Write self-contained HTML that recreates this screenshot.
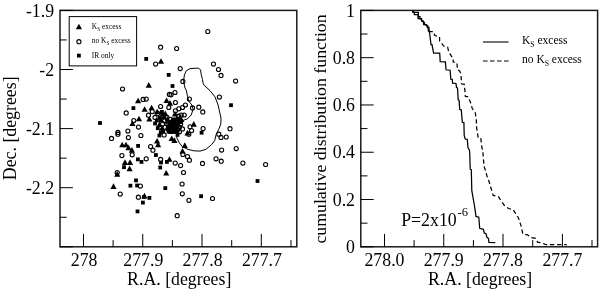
<!DOCTYPE html>
<html><head><meta charset="utf-8"><title>Figure</title>
<style>
html,body{margin:0;padding:0;background:#fff;}
body{width:600px;height:289px;overflow:hidden;}
svg{display:block;font-family:"Liberation Serif","Times New Roman",serif;fill:#000;}
.ax{fill:none;stroke:#1a1a1a;stroke-width:1.5;}
.tk{stroke:#000;stroke-width:1;fill:none;}
.lbl{font-size:17.8px;}
.c{fill:none;stroke:#000;stroke-width:1.1;}
.cn{fill:none;stroke:#000;stroke-width:1.1;}
</style></head><body>
<svg width="600" height="289" viewBox="0 0 600 289">
<rect x="0" y="0" width="600" height="289" fill="#fff"/>

<rect class="ax" x="60.0" y="10.4" width="236.8" height="236.4"/>
<rect class="ax" x="360.8" y="10.4" width="236.8" height="236.4"/>
<path class="tk" d="M60.0,10.40h12.9M60.0,39.95h6.7M60.0,69.50h12.9M60.0,99.05h6.7M60.0,128.60h12.9M60.0,158.15h6.7M60.0,187.70h12.9M60.0,217.25h6.7M60.0,246.80h12.9M83.5,246.8v-12.9M113.1,246.8v-6.7M142.75,246.8v-12.9M172.4,246.8v-6.7M202,246.8v-12.9M231.7,246.8v-6.7M261.3,246.8v-12.9M291,246.8v-6.7M360.8,246.80h12.9M360.8,223.16h6.7M360.8,199.52h12.9M360.8,175.88h6.7M360.8,152.24h12.9M360.8,128.60h6.7M360.8,104.96h12.9M360.8,81.32h6.7M360.8,57.68h12.9M360.8,34.04h6.7M360.8,10.40h12.9M384.5,246.8v-12.9M414.1,246.8v-6.7M443.75,246.8v-12.9M473.4,246.8v-6.7M503,246.8v-12.9M532.7,246.8v-6.7M562.4,246.8v-12.9M592,246.8v-6.7"/>
<text class="lbl" text-anchor="end" transform="translate(54.1,16.6) scale(1,1.1)">-1.9</text>
<text class="lbl" text-anchor="end" transform="translate(54.1,75.7) scale(1,1.1)">-2</text>
<text class="lbl" text-anchor="end" transform="translate(54.1,134.8) scale(1,1.1)">-2.1</text>
<text class="lbl" text-anchor="end" transform="translate(54.1,193.9) scale(1,1.1)">-2.2</text>
<text class="lbl" text-anchor="end" transform="translate(355,16.6) scale(1,1.1)">1</text>
<text class="lbl" text-anchor="end" transform="translate(355,63.9) scale(1,1.1)">0.8</text>
<text class="lbl" text-anchor="end" transform="translate(355,111.2) scale(1,1.1)">0.6</text>
<text class="lbl" text-anchor="end" transform="translate(355,158.4) scale(1,1.1)">0.4</text>
<text class="lbl" text-anchor="end" transform="translate(355,205.7) scale(1,1.1)">0.2</text>
<text class="lbl" text-anchor="end" transform="translate(355,253.0) scale(1,1.1)">0</text>
<text class="lbl" text-anchor="middle" transform="translate(84.1,266.3) scale(1,1.1)">278</text>
<text class="lbl" text-anchor="middle" transform="translate(143.35,266.3) scale(1,1.1)">277.9</text>
<text class="lbl" text-anchor="middle" transform="translate(202.6,266.3) scale(1,1.1)">277.8</text>
<text class="lbl" text-anchor="middle" transform="translate(261.90000000000003,266.3) scale(1,1.1)">277.7</text>
<text class="lbl" text-anchor="middle" transform="translate(384.5,266.3) scale(1,1.1)">278.0</text>
<text class="lbl" text-anchor="middle" transform="translate(443.75,266.3) scale(1,1.1)">277.9</text>
<text class="lbl" text-anchor="middle" transform="translate(503,266.3) scale(1,1.1)">277.8</text>
<text class="lbl" text-anchor="middle" transform="translate(562.4,266.3) scale(1,1.1)">277.7</text>
<text class="lbl" text-anchor="middle" transform="translate(179.2,285.3) scale(1,1.1)">R.A. [degrees]</text>
<text class="lbl" text-anchor="middle" transform="translate(480.1,285.3) scale(1,1.1)">R.A. [degrees]</text>
<text class="lbl" text-anchor="middle" transform="translate(16,128.3) rotate(-90) scale(1,1.1)">Dec. [degrees]</text>
<text class="lbl" text-anchor="middle" transform="translate(325.8,129) rotate(-90) scale(1,0.9)">cumulative distribution function</text>
<polyline class="cn" style="stroke-width:1" points="198.8,68.2 195.0,68.2 190.0,68.6 186.2,70.8 184.4,75.1 183.5,81.4 185.0,88.0 186.2,90.0 187.5,96.2 188.8,101.2 191.9,105.0 193.1,109.4 191.2,115.0 187.5,118.8 182.5,120.6 178.0,124.0 176.0,130.0 176.9,138.0 179.4,143.0 182.5,146.8 187.5,149.2 193.8,150.8 200.0,151.1 205.8,149.4 211.5,144.7 214.7,140.6 216.2,134.3 218.8,129.2 220.8,124.0 221.0,118.0 220.0,113.8 218.1,105.0 215.0,96.9 210.0,90.6 203.8,85.0 203.1,83.2 202.5,79.5 201.2,74.5 200.6,70.1 198.8,68.2"/>
<g class="c"><circle cx="207.8" cy="31.5" r="2.05"/><circle cx="160.6" cy="47.2" r="2.05"/><circle cx="176.6" cy="48.5" r="2.05"/><circle cx="155.6" cy="64.1" r="2.05"/><circle cx="122.5" cy="89.0" r="2.05"/><circle cx="180.2" cy="68.6" r="2.05"/><circle cx="213.5" cy="64.1" r="2.05"/><circle cx="218.5" cy="69.5" r="2.05"/><circle cx="221.0" cy="75.4" r="2.05"/><circle cx="235.6" cy="81.1" r="2.05"/><circle cx="182.9" cy="81.4" r="2.05"/><circle cx="143.1" cy="99.4" r="2.05"/><circle cx="146.2" cy="99.1" r="2.05"/><circle cx="169.4" cy="94.4" r="2.05"/><circle cx="160.6" cy="106.5" r="2.05"/><circle cx="126.2" cy="112.9" r="2.05"/><circle cx="168.8" cy="107.5" r="2.05"/><circle cx="152.2" cy="111.6" r="2.05"/><circle cx="148.5" cy="115.2" r="2.05"/><circle cx="133.8" cy="120.5" r="2.05"/><circle cx="175.4" cy="102.5" r="2.05"/><circle cx="185.4" cy="105.0" r="2.05"/><circle cx="182.5" cy="107.5" r="2.05"/><circle cx="178.8" cy="108.8" r="2.05"/><circle cx="175.4" cy="110.8" r="2.05"/><circle cx="192.5" cy="107.9" r="2.05"/><circle cx="181.2" cy="115.0" r="2.05"/><circle cx="184.2" cy="115.0" r="2.05"/><circle cx="175.0" cy="92.5" r="2.05"/><circle cx="171.0" cy="94.8" r="2.05"/><circle cx="189.4" cy="99.1" r="2.05"/><circle cx="198.8" cy="107.2" r="2.05"/><circle cx="202.8" cy="111.9" r="2.05"/><circle cx="219.4" cy="97.1" r="2.05"/><circle cx="230.0" cy="128.7" r="2.05"/><circle cx="226.2" cy="137.0" r="2.05"/><circle cx="138.5" cy="127.1" r="2.05"/><circle cx="127.9" cy="131.1" r="2.05"/><circle cx="117.9" cy="132.4" r="2.05"/><circle cx="117.9" cy="134.2" r="2.05"/><circle cx="111.5" cy="138.4" r="2.05"/><circle cx="128.4" cy="137.6" r="2.05"/><circle cx="140.9" cy="135.5" r="2.05"/><circle cx="150.6" cy="146.5" r="2.05"/><circle cx="152.9" cy="150.2" r="2.05"/><circle cx="164.1" cy="134.9" r="2.05"/><circle cx="182.5" cy="128.9" r="2.05"/><circle cx="180.6" cy="121.1" r="2.05"/><circle cx="190.0" cy="126.8" r="2.05"/><circle cx="191.6" cy="130.5" r="2.05"/><circle cx="188.8" cy="134.2" r="2.05"/><circle cx="203.1" cy="128.6" r="2.05"/><circle cx="218.8" cy="134.2" r="2.05"/><circle cx="221.0" cy="137.4" r="2.05"/><circle cx="221.6" cy="150.1" r="2.05"/><circle cx="236.2" cy="148.6" r="2.05"/><circle cx="121.9" cy="155.6" r="2.05"/><circle cx="132.2" cy="154.8" r="2.05"/><circle cx="146.2" cy="158.8" r="2.05"/><circle cx="160.6" cy="159.4" r="2.05"/><circle cx="117.2" cy="172.5" r="2.05"/><circle cx="182.9" cy="154.4" r="2.05"/><circle cx="187.5" cy="156.5" r="2.05"/><circle cx="189.4" cy="160.2" r="2.05"/><circle cx="175.2" cy="163.1" r="2.05"/><circle cx="180.6" cy="165.6" r="2.05"/><circle cx="183.5" cy="172.5" r="2.05"/><circle cx="182.1" cy="184.0" r="2.05"/><circle cx="202.5" cy="163.4" r="2.05"/><circle cx="216.0" cy="158.8" r="2.05"/><circle cx="221.2" cy="161.2" r="2.05"/><circle cx="242.9" cy="163.1" r="2.05"/><circle cx="265.6" cy="164.5" r="2.05"/><circle cx="140.4" cy="186.1" r="2.05"/><circle cx="120.2" cy="194.1" r="2.05"/><circle cx="138.4" cy="197.2" r="2.05"/><circle cx="182.3" cy="193.8" r="2.05"/><circle cx="188.9" cy="200.3" r="2.05"/><circle cx="212.5" cy="198.5" r="2.05"/><circle cx="177.2" cy="215.7" r="2.05"/><circle cx="178.6" cy="116.2" r="2.05"/><circle cx="170.3" cy="119.3" r="2.05"/><circle cx="168.8" cy="122.3" r="2.05"/><circle cx="167.9" cy="124.2" r="2.05"/><circle cx="180.6" cy="124.1" r="2.05"/><circle cx="179.5" cy="127.0" r="2.05"/><circle cx="177.9" cy="129.4" r="2.05"/><circle cx="179.5" cy="131.7" r="2.05"/><circle cx="157.8" cy="113.4" r="2.05"/><circle cx="155.0" cy="117.4" r="2.05"/><circle cx="167.0" cy="117.3" r="2.05"/><circle cx="164.5" cy="121.0" r="2.05"/><circle cx="162.6" cy="123.9" r="2.05"/><circle cx="164.9" cy="127.3" r="2.05"/></g>
<g><path d="M157.9,63.8L164.1,63.8L161.0,58.2Z"/><path d="M145.7,87.7L151.8,87.7L148.8,82.1Z"/><path d="M135.0,103.3L141.2,103.3L138.1,97.7Z"/><path d="M163.5,103.0L169.7,103.0L166.6,97.4Z"/><path d="M141.5,111.8L147.7,111.8L144.6,106.2Z"/><path d="M148.5,110.3L154.7,110.3L151.6,104.7Z"/><path d="M154.0,114.3L160.2,114.3L157.1,108.7Z"/><path d="M135.9,121.3L142.1,121.3L139.0,115.7Z"/><path d="M146.3,121.6L152.5,121.6L149.4,116.0Z"/><path d="M166.9,105.7L173.1,105.7L170.0,100.1Z"/><path d="M129.4,126.0L135.6,126.0L132.5,120.4Z"/><path d="M119.2,147.3L125.3,147.3L122.2,141.7Z"/><path d="M122.9,147.3L129.1,147.3L126.0,141.7Z"/><path d="M125.4,150.2L131.6,150.2L128.5,144.6Z"/><path d="M128.8,152.7L135.0,152.7L131.9,147.1Z"/><path d="M154.0,143.5L160.2,143.5L157.1,137.9Z"/><path d="M155.0,147.3L161.2,147.3L158.1,141.7Z"/><path d="M190.7,126.7L196.8,126.7L193.8,121.0Z"/><path d="M184.4,135.4L190.6,135.4L187.5,129.8Z"/><path d="M181.7,147.9L187.8,147.9L184.8,142.3Z"/><path d="M179.4,153.5L185.6,153.5L182.5,147.9Z"/><path d="M171.3,142.9L177.5,142.9L174.4,137.3Z"/><path d="M166.3,161.8L172.5,161.8L169.4,156.2Z"/><path d="M121.9,164.9L128.1,164.9L125.0,159.3Z"/><path d="M126.9,164.9L133.1,164.9L130.0,159.3Z"/><path d="M126.5,171.2L132.7,171.2L129.6,165.6Z"/><path d="M114.2,176.7L120.3,176.7L117.2,171.1Z"/><path d="M163.2,175.5L169.3,175.5L166.2,169.9Z"/><path d="M110.4,188.9L116.6,188.9L113.5,183.3Z"/><path d="M141.3,198.4L147.5,198.4L144.4,192.8Z"/><path d="M168.6,141.1L174.8,141.1L171.7,135.5Z"/><path d="M171.9,116.4L178.1,116.4L175.0,110.8Z"/><path d="M178.2,121.9L184.4,121.9L181.3,116.3Z"/><path d="M164.4,121.7L170.6,121.7L167.5,116.1Z"/><path d="M171.9,122.0L178.1,122.0L175.0,116.4Z"/><path d="M177.2,121.7L183.4,121.7L180.3,116.1Z"/><path d="M171.1,124.8L177.3,124.8L174.2,119.2Z"/><path d="M176.6,124.0L182.8,124.0L179.7,118.4Z"/><path d="M169.5,127.1L175.7,127.1L172.6,121.5Z"/><path d="M175.0,126.7L181.2,126.7L178.1,121.1Z"/><path d="M168.5,129.1L174.7,129.1L171.6,123.5Z"/><path d="M173.6,129.0L179.8,129.0L176.7,123.4Z"/><path d="M167.1,131.9L173.3,131.9L170.2,126.3Z"/><path d="M172.7,131.3L178.9,131.3L175.8,125.7Z"/><path d="M168.0,134.1L174.2,134.1L171.1,128.5Z"/><path d="M173.9,133.9L180.1,133.9L177.0,128.3Z"/><path d="M162.2,116.2L168.4,116.2L165.3,110.6Z"/><path d="M160.9,119.0L167.1,119.0L164.0,113.4Z"/><path d="M157.8,122.2L164.0,122.2L160.9,116.6Z"/><path d="M156.3,127.1L162.5,127.1L159.4,121.5Z"/><path d="M159.0,130.6L165.2,130.6L162.1,125.0Z"/></g>
<g><rect x="144.3" y="57.0" width="3.8" height="3.8"/><rect x="166.8" y="73.0" width="3.8" height="3.8"/><rect x="170.6" y="84.1" width="3.8" height="3.8"/><rect x="131.5" y="106.2" width="3.8" height="3.8"/><rect x="160.0" y="110.0" width="3.8" height="3.8"/><rect x="229.1" y="103.3" width="3.8" height="3.8"/><rect x="98.1" y="121.1" width="3.8" height="3.8"/><rect x="136.2" y="144.0" width="3.8" height="3.8"/><rect x="157.5" y="133.6" width="3.8" height="3.8"/><rect x="161.2" y="129.2" width="3.8" height="3.8"/><rect x="199.7" y="130.8" width="3.8" height="3.8"/><rect x="175.6" y="133.0" width="3.8" height="3.8"/><rect x="154.0" y="153.1" width="3.8" height="3.8"/><rect x="136.0" y="157.5" width="3.8" height="3.8"/><rect x="139.6" y="160.0" width="3.8" height="3.8"/><rect x="159.1" y="160.6" width="3.8" height="3.8"/><rect x="165.0" y="160.0" width="3.8" height="3.8"/><rect x="122.1" y="165.3" width="3.8" height="3.8"/><rect x="158.3" y="165.6" width="3.8" height="3.8"/><rect x="134.1" y="178.5" width="3.8" height="3.8"/><rect x="128.5" y="183.8" width="3.8" height="3.8"/><rect x="135.2" y="183.6" width="3.8" height="3.8"/><rect x="163.4" y="186.2" width="3.8" height="3.8"/><rect x="147.5" y="196.0" width="3.8" height="3.8"/><rect x="141.0" y="200.7" width="3.8" height="3.8"/><rect x="135.6" y="209.5" width="3.8" height="3.8"/><rect x="199.2" y="194.3" width="3.8" height="3.8"/><rect x="255.6" y="179.1" width="3.8" height="3.8"/><rect x="158.9" y="130.5" width="3.8" height="3.8"/><rect x="142.1" y="195.1" width="3.8" height="3.8"/><rect x="176.1" y="116.7" width="3.8" height="3.8"/><rect x="170.9" y="117.6" width="3.8" height="3.8"/><rect x="175.7" y="117.6" width="3.8" height="3.8"/><rect x="169.3" y="119.9" width="3.8" height="3.8"/><rect x="174.9" y="120.0" width="3.8" height="3.8"/><rect x="168.0" y="122.2" width="3.8" height="3.8"/><rect x="173.2" y="122.6" width="3.8" height="3.8"/><rect x="166.6" y="124.7" width="3.8" height="3.8"/><rect x="172.1" y="125.0" width="3.8" height="3.8"/><rect x="165.5" y="127.4" width="3.8" height="3.8"/><rect x="171.1" y="127.1" width="3.8" height="3.8"/><rect x="166.7" y="129.7" width="3.8" height="3.8"/><rect x="172.4" y="129.8" width="3.8" height="3.8"/><rect x="160.2" y="112.4" width="3.8" height="3.8"/><rect x="158.0" y="116.0" width="3.8" height="3.8"/><rect x="154.9" y="118.5" width="3.8" height="3.8"/><rect x="153.2" y="121.6" width="3.8" height="3.8"/><rect x="155.9" y="126.3" width="3.8" height="3.8"/></g>
<rect x="69.2" y="16.6" width="67.4" height="49.3" fill="#fff" stroke="#000" stroke-width="1"/>
<path d="M75.8,29.3L82.0,29.3L78.9,23.7Z"/>
<g class="c"><circle cx="78.9" cy="41.7" r="2.05"/></g>
<rect x="77.0" y="53.7" width="3.8" height="3.8"/>
<g style="font-size:7.45px">
<text transform="translate(91.8,28.5) scale(1,1.1)">K<tspan dy="1.9" style="font-size:5.2px">S</tspan><tspan dy="-1.9"> excess</tspan></text>
<text transform="translate(91.8,43.1) scale(1,1.1)">no K<tspan dy="1.9" style="font-size:5.2px">S</tspan><tspan dy="-1.9"> excess</tspan></text>
<text transform="translate(91.8,57.9) scale(1,1.1)">IR only</text>
</g>
<polyline class="cn" style="stroke-width:1.25" points="412.4,10.3 412.8,12.3 414.3,12.3 414.3,14.5 418.0,14.5 418.0,18.5 421.6,18.5 421.6,21.1 423.2,21.1 423.7,24.5 426.3,24.5 427.3,27.3 428.9,27.3 429.5,32.3 431.0,44.7 432.0,44.7 433.6,53.1 439.7,53.1 440.2,61.6 445.4,61.9 446.0,69.8 450.1,70.2 450.8,79.2 452.3,79.4 452.6,83.2 456.0,83.5 456.5,87.6 457.5,88.0 458.2,99.9 459.1,100.4 459.7,109.3 461.3,109.9 462.3,122.3 463.9,122.6 464.2,135.4 465.2,139.0 467.3,139.3 468.0,147.8 469.4,150.0 469.7,152.0 470.2,169.2 471.3,169.7 471.8,190.6 474.5,206.0 476.0,216.4 478.8,217.2 479.7,228.3 483.3,229.3 484.3,233.0 486.0,233.8 487.0,237.5 488.5,238.4 488.9,242.3 495.3,242.7"/>
<polyline class="cn" style="stroke-width:1.25" points="412.4,10.3 413.6,12.3 418.4,12.3 418.4,16.5 420.0,16.5 420.0,18.5 422.6,21.1 424.5,22.6 424.5,24.5 427.6,25.5 428.2,29.5 428.5,31.7"/>
<polyline class="cn" style="stroke-width:1.25" stroke-dasharray="4.3 2.8" points="428.5,31.7 433.7,31.7 434.5,35.0 436.3,36.0 439.6,37.0 439.6,41.0 441.5,43.2 443.0,45.2 444.6,46.8 447.7,47.3 448.3,50.0 450.1,54.2 453.2,58.8 453.2,62.0 456.9,62.5 457.4,69.7 459.5,70.8 461.0,73.9 461.5,83.8 464.3,84.3 465.1,93.2 465.3,96.3 468.4,97.0 470.5,102.5 472.2,108.3 475.3,113.0 476.3,119.7 476.6,127.5 477.7,134.3 478.2,138.0 480.8,138.5 481.5,145.2 482.9,152.0 483.4,158.8 484.0,166.0 485.8,171.8 487.4,177.5 488.5,179.7 490.8,187.5 493.2,195.4 498.6,196.8 501.0,200.7 504.8,206.0 508.7,208.5 513.4,210.0 517.3,216.3 518.2,217.3 521.0,225.6 522.8,233.9 527.4,234.8 531.0,237.5 535.6,238.4 537.5,242.1 542.0,243.0 545.7,244.5 566.8,244.5"/>
<path class="cn" style="stroke-width:1.1" d="M483,42H508.6"/>
<path class="cn" style="stroke-width:1.1" stroke-dasharray="4.6 2.4" d="M483,61H508.6"/>
<g style="font-size:11.5px">
<text x="522" y="43.7">K<tspan dy="3.2" style="font-size:7.6px">S</tspan><tspan dy="-3.2"> excess</tspan></text>
<text x="522" y="62.5">no K<tspan dy="3.2" style="font-size:7.6px">S</tspan><tspan dy="-3.2"> excess</tspan></text>
</g>
<text x="401.2" y="226.4" style="font-size:17.8px">P=2x10<tspan dy="-10.4" dx="0.8" style="font-size:12.6px">-6</tspan></text>
</svg></body></html>
